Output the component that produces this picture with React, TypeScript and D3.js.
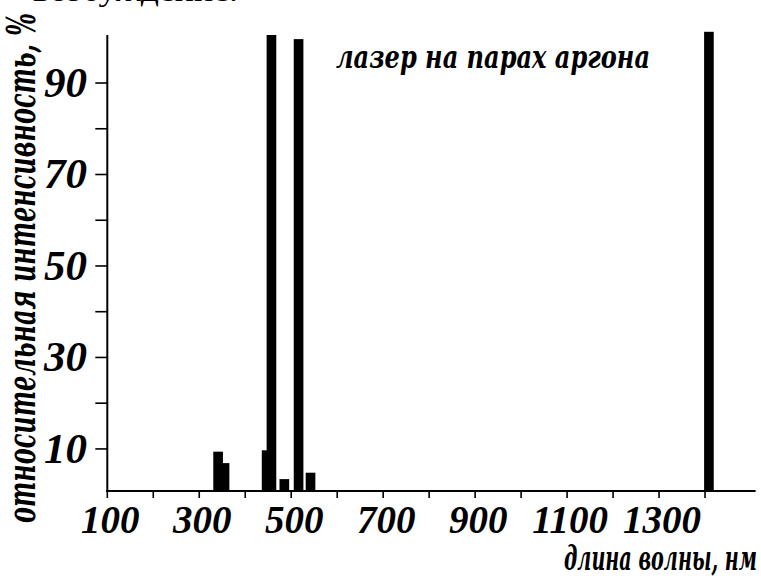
import React from "react";
import * as d3 from "d3";

// Emission lines of the argon-ion laser: wavelength (nm) and relative intensity (%)
const wavelengths = [341, 355, 446.5, 457, 485, 516, 542, 1408.5];
const intensities = [9.4, 6.9, 9.7, 100.5, 3.4, 99.6, 4.8, 101.2];
const lineBandNm = 21;

const xTickValues = [100, 200, 300, 400, 500, 600, 700, 800, 900, 1000, 1100, 1200, 1300, 1400];
const xTickLabels = [100, 300, 500, 700, 900, 1100, 1300];
const yTickValues = [10, 20, 30, 40, 50, 60, 70, 80, 90];
const yTickLabels = [10, 30, 50, 70, 90];

const title = "лазер на парах аргона";
const xTitle = "длина волны, нм";
const yTitle = "относительная интенсивность, %";
const textAbove = "возбуждение.";

const W = 761;
const H = 578;
const DIGITS = "'Liberation Serif', 'Times New Roman', serif";
const CYR = "'DejaVu Serif', 'Liberation Serif', serif";

export default function App() {
  const x = d3.scaleLinear().domain([100, 1510]).range([107.3, 755.6]);
  const y = d3.scaleLinear().domain([0.8, 100.5]).range([491, 35]);
  const [yMin] = y.domain();
  const [xMin, xMax] = x.domain();

  const lines = wavelengths
    .map((w, i) => ({ w, v: intensities[i] }))
    .sort((a, b) => a.v - b.v);

  const num = { fontFamily: DIGITS, fontWeight: 700, fontStyle: "italic" as const };
  const cyr = { fontFamily: CYR, fontWeight: 700, fontStyle: "italic" as const };

  return (
    <svg
      width={W}
      height={H}
      viewBox={`0 0 ${W} ${H}`}
      style={{ position: "absolute", left: 0, top: 0, display: "block", background: "#fff" }}
    >
      <rect x={0} y={0} width={W} height={H} fill="#fff" />

      {/* tail of the paragraph above the figure */}
      <text x={33} y={1} fontFamily={DIGITS} fontSize={30} textLength={205} lengthAdjust="spacingAndGlyphs" fill="#000">
        {textAbove}
      </text>

      {/* spectral lines */}
      {lines.map((d, i) => {
        const x0 = x(d.w - lineBandNm / 2);
        const x1 = x(d.w + lineBandNm / 2);
        return (
          <rect
            key={i}
            x={x0}
            y={y(d.v)}
            width={x1 - x0}
            height={y(yMin) - y(d.v)}
            fill="#000"
          />
        );
      })}

      {/* axes */}
      <line x1={x(xMin)} x2={x(xMin)} y1={y(100.5)} y2={y(yMin) + 1} stroke="#000" strokeWidth={2} />
      <line x1={x(xMin) - 1} x2={x(xMax)} y1={y(yMin)} y2={y(yMin)} stroke="#000" strokeWidth={2} />

      {yTickValues.map((t) => (
        <line key={`yt${t}`} x1={x(xMin) - 12} x2={x(xMin)} y1={y(t)} y2={y(t)} stroke="#000" strokeWidth={1.6} />
      ))}
      {yTickLabels.map((t) => (
        <text key={`yl${t}`} x={87} y={y(t) + 14} textAnchor="end" fontSize={43} {...num} fill="#000">
          {t}
        </text>
      ))}

      {xTickValues.map((t) => (
        <line key={`xt${t}`} x1={x(t)} x2={x(t)} y1={y(yMin)} y2={y(yMin) + 7} stroke="#000" strokeWidth={1.6} />
      ))}
      {xTickLabels.map((t) => (
        <text key={`xl${t}`} x={x(t) + 3} y={533} textAnchor="middle" fontSize={39} {...num} fill="#000">
          {t}
        </text>
      ))}

      {/* titles */}
      <text x={336} y={68} fontSize={31} textLength={314} lengthAdjust="spacingAndGlyphs" {...cyr} fill="#000">
        {title}
      </text>
      <text x={564} y={570} fontSize={33} textLength={193} lengthAdjust="spacingAndGlyphs" {...cyr} fill="#000">
        {xTitle}
      </text>
      <text
        transform={`translate(35, 268) rotate(-90)`}
        textAnchor="middle"
        fontSize={39}
        textLength={510}
        lengthAdjust="spacingAndGlyphs"
        {...cyr}
        fill="#000"
      >
        {yTitle}
      </text>
    </svg>
  );
}
